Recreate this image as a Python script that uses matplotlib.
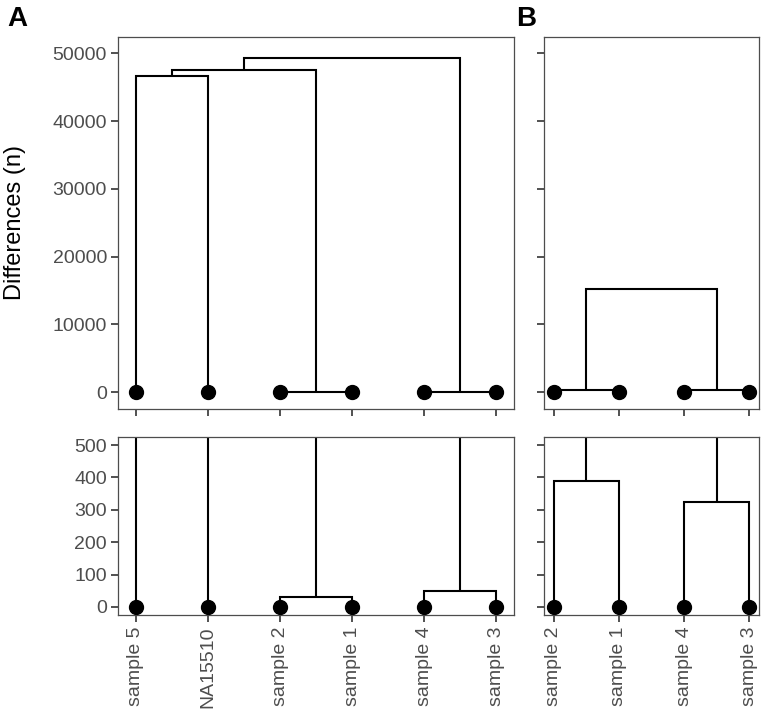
import matplotlib
matplotlib.use("Agg")
import matplotlib.pyplot as plt

plt.rcParams['font.family'] = ['Liberation Sans', 'DejaVu Sans']

# ---- data ----
leaves_A = ['sample 5', 'NA15510', 'sample 2', 'sample 1', 'sample 4', 'sample 3']
# merges: (left member, right member, height); members are leaf names or merge indices ("m0", ...)
merges_A = [
    ('sample 2', 'sample 1', 32),
    ('sample 4', 'sample 3', 48),
    ('sample 5', 'NA15510', 46600),
    ('m2', 'm0', 47500),
    ('m3', 'm1', 49300),
]
leaves_B = ['sample 2', 'sample 1', 'sample 4', 'sample 3']
merges_B = [
    ('sample 2', 'sample 1', 388),
    ('sample 4', 'sample 3', 323),
    ('m0', 'm1', 15300),
]
top_ticks = [0, 10000, 20000, 30000, 40000, 50000]
bottom_ticks = [0, 100, 200, 300, 400, 500]

W, H = 773, 715
fig = plt.figure(figsize=(W / 100, H / 100), dpi=100)


def rect(l, t, r, b):
    return [l / W, 1 - b / H, (r - l) / W, (b - t) / H]


def draw_dendro(ax, leaves, merges):
    pos = {name: (i + 1, 0.0) for i, name in enumerate(leaves)}
    for k, (a, b, h) in enumerate(merges):
        xa, ya = pos[a]
        xb, yb = pos[b]
        ax.plot([xa, xa, xb, xb], [ya, h, h, yb], color='black', lw=1.5,
                solid_joinstyle='miter', solid_capstyle='butt', zorder=2)
        pos['m%d' % k] = ((xa + xb) / 2, h)
    ax.plot(range(1, len(leaves) + 1), [0] * len(leaves), 'o', color='black',
            ms=10, zorder=3, clip_on=False)


def style(ax, n, yt, ylim, show_ylabels, show_xlabels, labels):
    ax.set_xlim(1 - 0.05 * (n - 1), n + 0.05 * (n - 1))
    ax.set_ylim(*ylim)
    ax.set_yticks(yt)
    ax.set_xticks(range(1, n + 1))
    for s in ax.spines.values():
        s.set_color('#4d4d4d')
        s.set_linewidth(0.9)
    ax.tick_params(axis='both', length=5, width=1.2, color='#333333',
                   labelsize=14, labelcolor='#4d4d4d', pad=3)
    if show_ylabels:
        ax.set_yticklabels([str(v) for v in yt])
    else:
        ax.set_yticklabels([])
    if show_xlabels:
        ax.set_xticklabels(labels, rotation=90, va='top', ha='center')
    else:
        ax.set_xticklabels([])


top_ylim = (-2470, 52400)
bot_ylim = (-25, 525)

axA1 = fig.add_axes(rect(118, 37, 514, 409))
draw_dendro(axA1, leaves_A, merges_A)
style(axA1, 6, top_ticks, top_ylim, True, False, leaves_A)
axA1.set_ylabel('Differences (n)', fontsize=17, color='black')
axA1.yaxis.set_label_coords(-0.232, 0.5)

axA2 = fig.add_axes(rect(118, 437, 514, 615))
draw_dendro(axA2, leaves_A, merges_A)
style(axA2, 6, bottom_ticks, bot_ylim, True, True, leaves_A)

axB1 = fig.add_axes(rect(544, 37, 759, 409))
draw_dendro(axB1, leaves_B, merges_B)
style(axB1, 4, top_ticks, top_ylim, False, False, leaves_B)

axB2 = fig.add_axes(rect(544, 437, 759, 615))
draw_dendro(axB2, leaves_B, merges_B)
style(axB2, 4, bottom_ticks, bot_ylim, False, True, leaves_B)

fig.text(7 / W, 1 - 19 / H, 'A', fontsize=20, fontweight='bold', va='center', ha='left')
fig.text(516 / W, 1 - 19 / H, 'B', fontsize=20, fontweight='bold', va='center', ha='left')

fig.savefig('out.png', dpi=100)
